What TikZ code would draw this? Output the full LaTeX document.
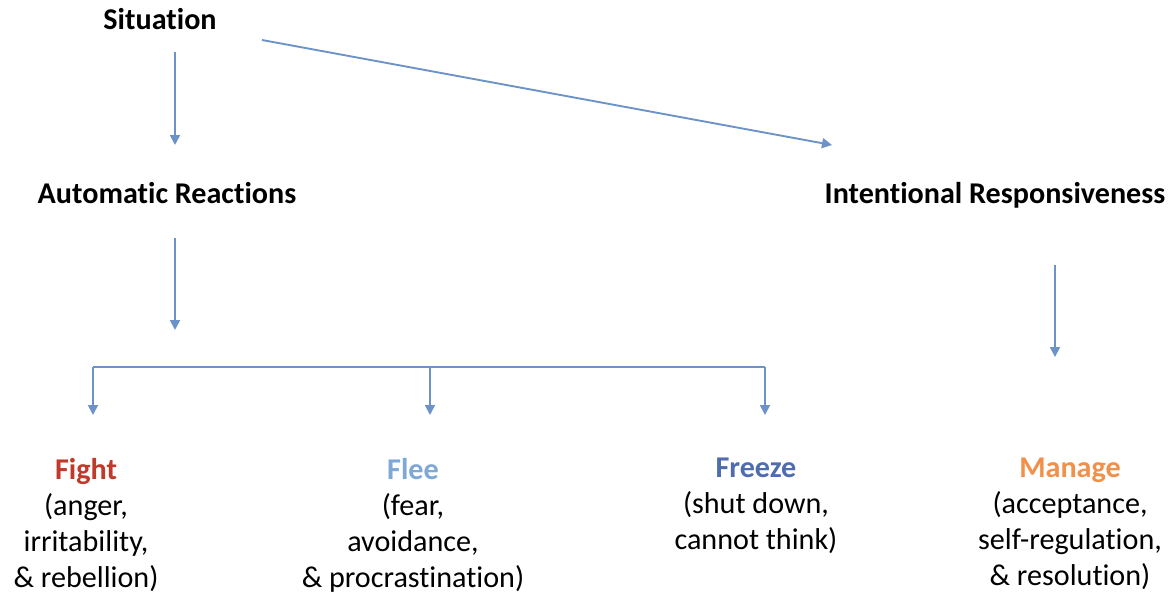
\documentclass[tikz,border=0pt]{standalone}
\usepackage{fontspec}
\setmainfont[RawFeature={-liga;-clig;-calt;-dlig}]{Carlito}
\usetikzlibrary{arrows.meta,calc}
\definecolor{arrcol}{HTML}{6B93C7}
\definecolor{fightcol}{HTML}{C0392B}
\definecolor{fleecol}{HTML}{7FA8D6}
\definecolor{freezecol}{HTML}{4F6DAE}
\definecolor{managecol}{HTML}{F0904A}
\begin{document}
\begin{tikzpicture}[x=0.75pt,y=-0.75pt,
  head/.style={font=\fontsize{22.6}{27}\selectfont\bfseries, inner sep=0pt, anchor=base},
  leaf/.style={font=\fontsize{22.6}{27}\selectfont, inner sep=0pt, anchor=north, align=center},
  arr/.style={draw=arrcol, line width=1.4pt, -{Triangle[length=7.5pt,width=7.5pt]}},
  bar/.style={draw=arrcol, line width=1.4pt}]
\useasboundingbox[fill=white] (0,0) rectangle (1172,596);
\node[head] (sit) at (160,30) {Situation};
\node[head] (auto) at (167,203) {Automatic Reactions};
\node[head] (intent) at (995,203) {Intentional Responsiveness};
\node[leaf] (fight) at (86,458) {\textbf{\textcolor{fightcol}{Fight}}\\(anger,\\irritability,\\\& rebellion)};
\node[leaf] (flee) at (413,458) {\textbf{\textcolor{fleecol}{Flee}}\\(fear,\\avoidance,\\\& procrastination)};
\node[leaf] (freeze) at (756,458) {\textbf{\textcolor{freezecol}{Freeze}}\\(shut down,\\cannot think)};
\node[leaf] (manage) at (1070,458) {\textbf{\textcolor{managecol}{Manage}}\\(acceptance,\\self-regulation,\\\& resolution)};
\coordinate (hub) at (175,330);
\coordinate (bL) at (93,367);
\coordinate (bM) at (430,367);
\coordinate (bR) at (765,367);
\draw[arr] ($(sit.base)+(15,22)$) -- ($(auto.base)+(8,-58)$);
\draw[arr] ($(sit.base)+(102,10)$) -- ($(intent.base)+(-163,-58)$);
\draw[arr] ($(auto.base)+(8,35)$) -- (hub);
\draw[bar] (bL) -- (bR);
\draw[arr] (bL) -- (bL |- {$(fight.north)+(0,-43)$});
\draw[arr] (bM) -- (bM |- {$(flee.north)+(0,-43)$});
\draw[arr] (bR) -- (bR |- {$(freeze.north)+(0,-43)$});
\draw[arr] ($(intent.base)+(60,62)$) -- ($(manage.north)+(-15,-101)$);
\end{tikzpicture}
\end{document}
